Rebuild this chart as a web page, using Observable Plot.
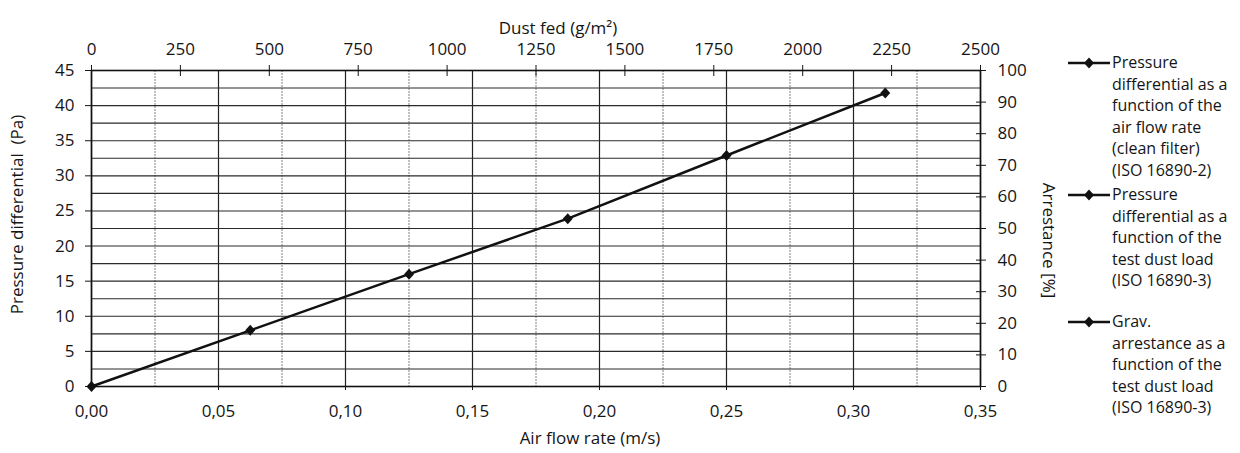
<!DOCTYPE html>
<html><head><meta charset="utf-8">
<script src="https://cdn.jsdelivr.net/npm/d3@7"></script>
<script src="https://cdn.jsdelivr.net/npm/@observablehq/plot@0.6"></script>
<style>
body{margin:0;background:#fff;font-family:"Open Sans",sans-serif;color:#151515;}
#wrap{position:relative;width:1240px;height:453px;overflow:hidden;}
#chart{position:absolute;left:0;top:0;}
.entry{position:absolute;left:1068px;display:flex;align-items:flex-start;font-size:16px;line-height:21.5px;}
.entry svg{flex:none;margin-top:0.75px;}
</style></head><body><div id="wrap"><div id="chart"></div></div>
<script>
// ---- data ----
const airFlow = [0, 0.0625, 0.125, 0.1875, 0.25, 0.3125];
const pressure = [0, 8, 16, 23.9, 32.9, 41.8];
const airTicks = [0, 0.05, 0.10, 0.15, 0.20, 0.25, 0.30, 0.35];
const airMinor = [0.025, 0.075, 0.125, 0.175, 0.225, 0.275, 0.325];
const pressureTicks = [0, 5, 10, 15, 20, 25, 30, 35, 40, 45];
const pressureGrid = [2.5, 5, 7.5, 10, 12.5, 15, 17.5, 20, 22.5, 25, 27.5, 30, 32.5, 35, 37.5, 40, 42.5];
const dustTicks = [0, 250, 500, 750, 1000, 1250, 1500, 1750, 2000, 2250, 2500];
const arrestTicks = [0, 10, 20, 30, 40, 50, 60, 70, 80, 90, 100];
const xTitle = "Air flow rate (m/s)";
const yTitle = "Pressure differential  (Pa)";
const topTitle = "Dust fed (g/m²)";
const rightTitle = "Arrestance [%]";
const legendEntries = [
  ["Pressure", "differential as a", "function of the", "air flow rate", "(clean filter)", "(ISO 16890-2)"],
  ["Pressure", "differential as a", "function of the", "test dust load", "(ISO 16890-3)"],
  ["Grav.", "arrestance as a", "function of the", "test dust load", "(ISO 16890-3)"]
];
const legendTops = [52, 184, 311];

const airMax = 0.35, pMax = 45, dustMax = 2500, arrMax = 100;
const data = airFlow.map((a, i) => ({air: a, p: pressure[i]}));

const diamond = {draw(ctx, size) {
  const r = Math.sqrt(size / Math.PI);
  ctx.moveTo(0, -r * 1.1); ctx.lineTo(r, 0); ctx.lineTo(0, r * 1.1); ctx.lineTo(-r, 0); ctx.closePath();
}};

const chart = Plot.plot({
  width: 1060, height: 453,
  marginLeft: 91, marginRight: 80, marginTop: 70, marginBottom: 67,
  x: {domain: [0, airMax]},
  y: {domain: [0, pMax]},
  style: {fontFamily: "Open Sans", fontSize: "17px", color: "#151515", background: "#fff", overflow: "visible"},
  marks: [
    Plot.ruleX(airMinor, {stroke: "#808080", strokeWidth: 1, strokeDasharray: "2,1"}),
    Plot.ruleX(airTicks, {stroke: "#222", strokeWidth: 1.2}),
    Plot.ruleY(pressureGrid, {stroke: "#2a2a2a", strokeWidth: 1.1}),
    Plot.frame({stroke: "#111", strokeWidth: 1.6}),
    Plot.axisX(airTicks, {anchor: "bottom", tickSize: 4, tickPadding: 14, tickFormat: d => d.toFixed(2).replace(".", ","), label: null}),
    Plot.axisY(pressureTicks, {anchor: "left", tickSize: 6, tickPadding: 11, label: null}),
    Plot.axisX(dustTicks.map(d => d / dustMax * airMax), {anchor: "top", tickSize: 6, tickPadding: 10, tickFormat: d => String(Math.round(d * dustMax / airMax)), label: null}),
    Plot.axisX(dustTicks.map(d => d / dustMax * airMax), {anchor: "top", tickSize: -5, tickFormat: () => "", label: null}),
    Plot.axisY(arrestTicks.map(a => a / arrMax * pMax), {anchor: "right", tickSize: 5, tickPadding: 12, tickFormat: d => String(Math.round(d * arrMax / pMax)), label: null}),
    Plot.axisY(arrestTicks.map(a => a / arrMax * pMax), {anchor: "right", tickSize: -5, tickFormat: () => "", label: null}),
    Plot.line(data, {x: "air", y: "p", stroke: "#111", strokeWidth: 2.5}),
    Plot.dot(data, {x: "air", y: "p", symbol: diamond, r: 5, fill: "#111"}),
    Plot.text([xTitle], {frameAnchor: "bottom", textAnchor: "middle", dx: 54, dy: 57, fontSize: 17}),
    Plot.text([topTitle], {frameAnchor: "top", textAnchor: "middle", dx: 22, dy: -49, fontSize: 17}),
    Plot.text([yTitle], {frameAnchor: "left", textAnchor: "middle", dx: -74, dy: -14, rotate: -90, fontSize: 17}),
    Plot.text([rightTitle], {frameAnchor: "right", textAnchor: "middle", dx: 68, dy: 12, rotate: 90, fontSize: 17})
  ]
});
document.getElementById("chart").appendChild(chart);

const wrap = document.getElementById("wrap");
legendEntries.forEach((lines, i) => {
  const div = document.createElement("div");
  div.className = "entry";
  div.style.top = legendTops[i] + "px";
  div.innerHTML = `<svg width="44" height="20"><line x1="0" x2="42" y1="10" y2="10" stroke="#111" stroke-width="2.5"/><path d="M21,4.5L26,10L21,15.5L16,10Z" fill="#111"/></svg><div>${lines.join("<br>")}</div>`;
  wrap.appendChild(div);
});
</script>
</body></html>
